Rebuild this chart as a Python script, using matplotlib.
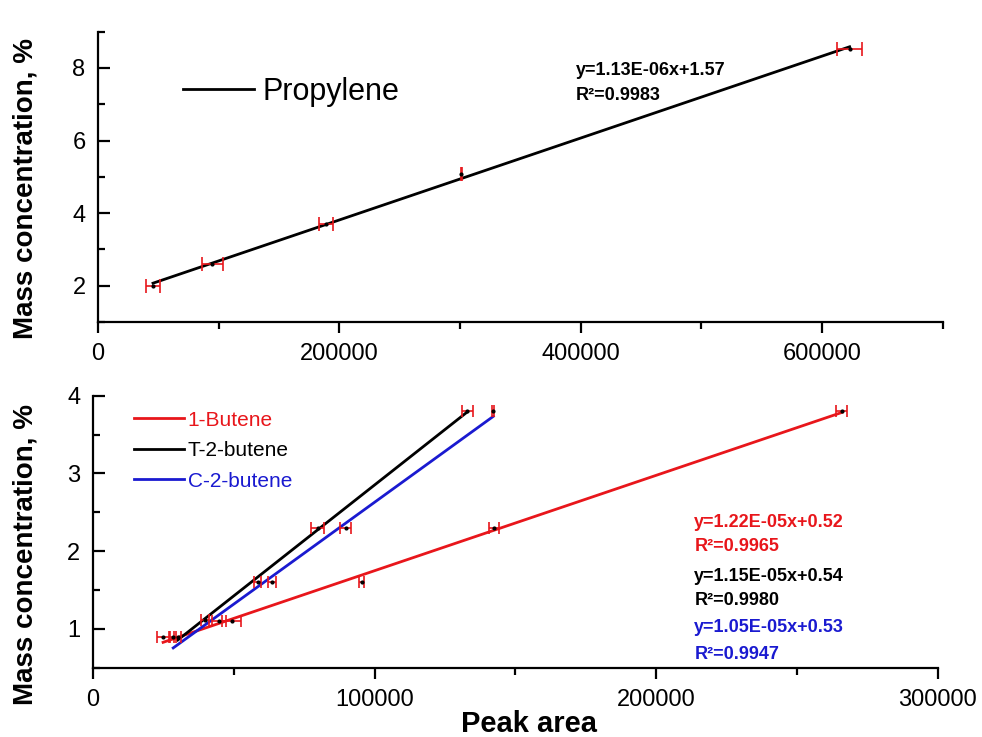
import numpy as np
import matplotlib
matplotlib.use("Agg")
import matplotlib.pyplot as plt
from matplotlib.ticker import MultipleLocator

plt.rcParams['font.family'] = ['Liberation Sans', 'DejaVu Sans']

# propylene calibration (top panel)
prop_area = [45600, 94600, 189000, 301000, 623000]
prop_conc = [2.0, 2.6, 3.71, 5.09, 8.52]
prop_err = [5800, 8700, 6000, 400, 10500]
prop_eq = ["y=1.13E-06x+1.57", "R²=0.9983"]

# butenes calibration (bottom panel)
but1_area = [24900, 49300, 95400, 142500, 266000]
but1_conc = [0.9, 1.1, 1.6, 2.3, 3.8]
but1_err = [2000, 3300, 1000, 1800, 2000]

t2b_area = [30100, 39700, 58500, 79800, 133000]
t2b_conc = [0.9, 1.12, 1.6, 2.3, 3.8]
t2b_err = [1200, 1500, 1200, 2200, 2000]

c2b_area = [28500, 44700, 63500, 89700, 142200]
c2b_conc = [0.9, 1.1, 1.6, 2.3, 3.8]
c2b_err = [1000, 2600, 1500, 2000, 300]

series_names = ["1-Butene", "T-2-butene", "C-2-butene"]
series_colors = ["#e8161b", "black", "#1a1ad0"]
eq_texts = [["y=1.22E-05x+0.52", "R²=0.9965"],
            ["y=1.15E-05x+0.54", "R²=0.9980"],
            ["y=1.05E-05x+0.53", "R²=0.9947"]]


def fit_line(ax, x, y, color):
    k, b = np.polyfit(x, y, 1)
    xs = np.array([min(x), max(x)])
    return ax.plot(xs, k * xs + b, color=color, lw=2, zorder=2)[0]


def style_axes(ax):
    for s in ['top', 'right']:
        ax.spines[s].set_visible(False)
    for s in ['left', 'bottom']:
        ax.spines[s].set_linewidth(1.6)
    # x ticks point out, y ticks point in
    ax.tick_params(axis='x', which='major', direction='out', length=8, width=1.6,
                   labelsize=17, pad=7)
    ax.tick_params(axis='x', which='minor', direction='out', length=5, width=1.6)
    ax.tick_params(axis='y', which='major', direction='in', length=8.5, width=1.6,
                   labelsize=17, pad=9)
    ax.tick_params(axis='y', which='minor', direction='in', length=5, width=1.6)


fig = plt.figure(figsize=(9.82, 7.37), dpi=100)
ax1 = fig.add_axes([0.0998, 0.563, 0.860, 0.394])
ax2 = fig.add_axes([0.0947, 0.094, 0.860, 0.369])

# top panel
ax1.errorbar(prop_area, prop_conc, xerr=prop_err, fmt='none', ecolor='#e8161b',
             elinewidth=1.2, capsize=5, capthick=1.2, zorder=3)
ln = fit_line(ax1, prop_area, prop_conc, 'black')
ax1.plot(prop_area, prop_conc, 'k.', ms=4, zorder=4)
ax1.set_xlim(0, 700000)
ax1.set_ylim(1, 9)
ax1.xaxis.set_major_locator(MultipleLocator(200000))
ax1.xaxis.set_minor_locator(MultipleLocator(100000))
ax1.yaxis.set_major_locator(MultipleLocator(2))
ax1.yaxis.set_minor_locator(MultipleLocator(1))
style_axes(ax1)
ax1.set_ylabel("Mass concentration, %", fontsize=20, fontweight='bold')
ax1.yaxis.set_label_coords(-0.071, 0.46)
ax1.legend([ln], ["Propylene"], loc='center left', bbox_to_anchor=(0.101, 0.793),
           frameon=False, fontsize=22, handlelength=2.3, handletextpad=0.3,
           borderpad=0, borderaxespad=0)
ax1.text(0.566, 0.866, prop_eq[0], transform=ax1.transAxes, fontsize=13,
         fontweight='bold', va='center')
ax1.text(0.566, 0.779, prop_eq[1], transform=ax1.transAxes, fontsize=13,
         fontweight='bold', va='center')

# bottom panel
areas = [but1_area, t2b_area, c2b_area]
concs = [but1_conc, t2b_conc, c2b_conc]
errs = [but1_err, t2b_err, c2b_err]
handles = []
for x, y, e in zip(areas, concs, errs):
    ax2.errorbar(x, y, xerr=e, fmt='none', ecolor='#e8161b', elinewidth=1.2,
                 capsize=4, capthick=1.2, zorder=3)
for x, y, c in zip(areas, concs, series_colors):
    handles.append(fit_line(ax2, x, y, c))
for x, y in zip(areas, concs):
    ax2.plot(x, y, 'k.', ms=4, zorder=4)

ax2.set_xlim(0, 300000)
ax2.set_ylim(0.5, 4)
ax2.xaxis.set_major_locator(MultipleLocator(100000))
ax2.xaxis.set_minor_locator(MultipleLocator(50000))
ax2.yaxis.set_major_locator(MultipleLocator(1))
ax2.yaxis.set_minor_locator(MultipleLocator(0.5))
style_axes(ax2)
ax2.set_ylabel("Mass concentration, %", fontsize=20, fontweight='bold')
ax2.yaxis.set_label_coords(-0.065, 0.415)
ax2.set_xlabel("Peak area", fontsize=21, fontweight='bold')
ax2.xaxis.set_label_coords(0.516, -0.155)

leg = ax2.legend(handles, series_names, loc='center left', bbox_to_anchor=(0.048, 0.798),
                 frameon=False, fontsize=15, handlelength=2.4, handletextpad=0.2,
                 labelspacing=0.55, borderpad=0, borderaxespad=0)
for t, c in zip(leg.get_texts(), series_colors):
    t.set_color(c)

eq_y = [0.533, 0.445, 0.335, 0.246, 0.147, 0.048]
for i, (lines, c) in enumerate(zip(eq_texts, series_colors)):
    for j, s in enumerate(lines):
        ax2.text(0.712, eq_y[2 * i + j], s, transform=ax2.transAxes, fontsize=13,
                 fontweight='bold', color=c, va='center')

fig.savefig("out.png", dpi=100)
